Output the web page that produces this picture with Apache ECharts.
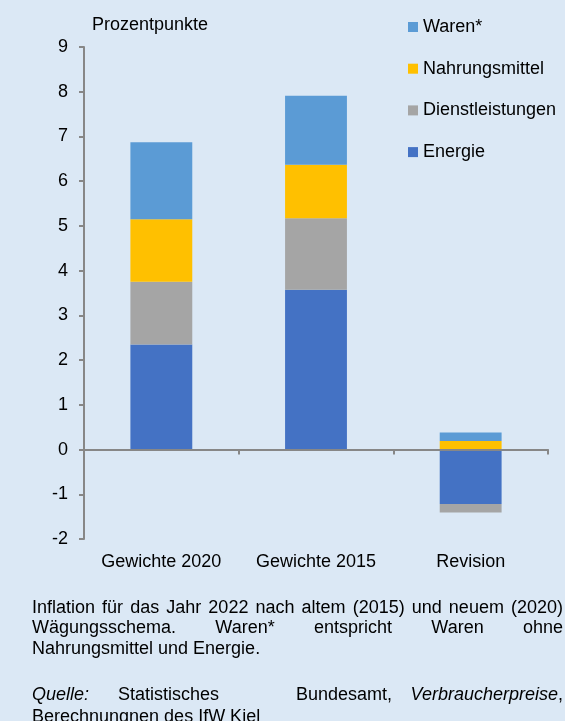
<!DOCTYPE html>
<html>
<head>
<meta charset="utf-8">
<script src="https://cdn.jsdelivr.net/npm/echarts@6/dist/echarts.min.js"></script>
<style>
  html, body { margin: 0; padding: 0; background: #dbe8f5; }
  #main { width: 565px; height: 721px; }
</style>
</head>
<body>
<div id="main"></div>
<script>
  // Daten (Prozentpunkte)
  var categories = ['Gewichte 2020', 'Gewichte 2015', 'Revision'];
  var energie = [2.35, 3.57, -1.22];
  var dienstleistungen = [1.40, 1.60, -0.19];
  var nahrungsmittel = [1.40, 1.20, 0.19];
  var waren = [1.72, 1.54, 0.19];
  var yMin = -2, yMax = 9, yStep = 1;

  var FONT = '"Liberation Sans", Arial, sans-serif';
  var axisGray = '#878787';

  // Blocksatz: Woerter gleichmaessig zwischen x0 und x1 verteilen
  var ctx = document.createElement('canvas').getContext('2d');
  function justify(words, y, x0, x1) {
    ctx.font = '18px ' + FONT;
    var widths = words.map(function (w) { return ctx.measureText(w).width; });
    var total = widths.reduce(function (a, b) { return a + b; }, 0);
    var gap = (x1 - x0 - total) / (words.length - 1);
    var x = x0, out = [];
    words.forEach(function (w, i) {
      out.push(textEl(w, x, y));
      x += widths[i] + gap;
    });
    return out;
  }
  function textEl(t, x, y, italic, align) {
    return {
      type: 'text', x: x, y: y,
      style: {
        text: t, fill: '#000',
        font: (italic ? 'italic ' : '') + '18px ' + FONT,
        align: align || 'left', verticalAlign: 'middle',
        textAlign: align || 'left', textVerticalAlign: 'middle'
      }
    };
  }

  var notes = [].concat(
    justify('Inflation für das Jahr 2022 nach altem (2015) und neuem (2020)'.split(' '), 608, 32, 563),
    justify('Wägungsschema. Waren* entspricht Waren ohne'.split(' '), 628, 32, 563),
    [
      textEl('Nahrungsmittel und Energie.', 32, 649),
      textEl('Quelle:', 32, 695, true),
      textEl('Statistisches', 118, 695),
      textEl('Bundesamt,', 296, 695),
      textEl(',', 563, 695, false, 'right'),
      textEl('Verbraucherpreise', 558, 695, true, 'right'),
      textEl('Berechnungnen des IfW Kiel', 32, 717),
      textEl('Prozentpunkte', 92, 25)
    ]
  );

  var myChart = echarts.init(document.getElementById('main'));
  var option = {
    backgroundColor: '#dbe8f5',
    animation: false,
    textStyle: { fontFamily: FONT },
    legend: {
      orient: 'vertical',
      left: 403,
      top: 13,
      itemWidth: 10,
      itemHeight: 10,
      itemGap: 23.7,
      icon: 'rect',
      textStyle: { fontSize: 18, color: '#000', fontFamily: FONT },
      data: ['Waren*', 'Nahrungsmittel', 'Dienstleistungen', 'Energie']
    },
    grid: { left: 84, right: 17, top: 47, bottom: 182 },
    xAxis: [
      {
        type: 'category',
        data: categories,
        z: 5,
        axisLine: { onZero: true, lineStyle: { color: axisGray, width: 2 } },
        axisTick: { show: true, length: 5, lineStyle: { color: axisGray, width: 2 } },
        axisLabel: { show: false },
        splitLine: { show: false }
      },
      {
        type: 'category',
        data: categories,
        position: 'bottom',
        axisLine: { show: false, onZero: false },
        axisTick: { show: false },
        axisLabel: { fontSize: 18, color: '#000', margin: 14, interval: 0,
                     hideOverlap: false, fontFamily: FONT },
        splitLine: { show: false }
      }
    ],
    yAxis: {
      type: 'value',
      min: yMin,
      max: yMax,
      interval: yStep,
      axisLine: { show: true, onZero: false, lineStyle: { color: axisGray, width: 2 } },
      axisTick: { show: true, length: 5, lineStyle: { color: axisGray, width: 2 } },
      axisLabel: { fontSize: 18, color: '#000', margin: 16, fontFamily: FONT },
      splitLine: { show: false }
    },
    graphic: notes,
    series: [
      { name: 'Energie', type: 'bar', stack: 's', barWidth: '40%', data: energie,
        itemStyle: { color: '#4472c4' } },
      { name: 'Dienstleistungen', type: 'bar', stack: 's', data: dienstleistungen,
        itemStyle: { color: '#a5a5a5' } },
      { name: 'Nahrungsmittel', type: 'bar', stack: 's', data: nahrungsmittel,
        itemStyle: { color: '#ffc000' } },
      { name: 'Waren*', type: 'bar', stack: 's', data: waren,
        itemStyle: { color: '#5b9bd5' } }
    ]
  };
  myChart.setOption(option);
</script>
</body>
</html>
